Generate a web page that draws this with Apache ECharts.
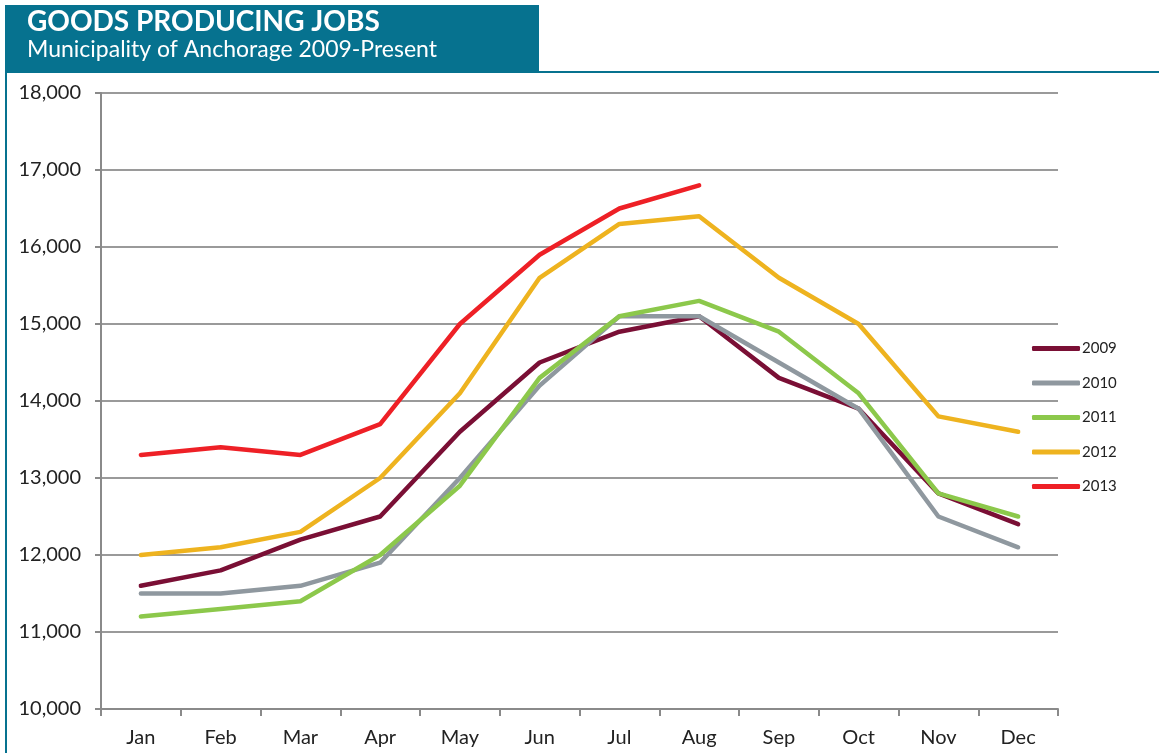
<!DOCTYPE html>
<html lang="en">
<head>
    <meta charset="UTF-8">
    <title>Goods Producing Jobs</title>
    <style>
        html, body { margin: 0; padding: 0; background: #fff; }
        #chart { width: 1159px; height: 753px; }
    </style>
</head>
<body>
<div id="chart"></div>
<script src="https://cdn.jsdelivr.net/npm/echarts@6/dist/echarts.min.js"></script>
<script>

    var months = ['Jan', 'Feb', 'Mar', 'Apr', 'May', 'Jun', 'Jul', 'Aug', 'Sep', 'Oct', 'Nov', 'Dec'];

    var y2009 = [11600, 11800, 12200, 12500, 13600, 14500, 14900, 15100, 14300, 13900, 12800, 12400];
    var y2010 = [11500, 11500, 11600, 11900, 13000, 14200, 15100, 15100, 14500, 13900, 12500, 12100];
    var y2011 = [11200, 11300, 11400, 12000, 12900, 14300, 15100, 15300, 14900, 14100, 12800, 12500];
    var y2012 = [12000, 12100, 12300, 13000, 14100, 15600, 16300, 16400, 15600, 15000, 13800, 13600];
    var y2013 = [13300, 13400, 13300, 13700, 15000, 15900, 16500, 16800];

    var seriesNames = ['2009', '2010', '2011', '2012', '2013'];
    var colors = ['#7a0f35', '#8f989f', '#8cc84b', '#eeb31f', '#ee2026'];

    var teal = '#06728f';
    var font = 'Lato, "Open Sans", sans-serif';

    var make_series = function (name, data) {
        return {
            name: name,
            type: 'line',
            data: data,
            symbol: 'none',
            lineStyle: { width: 4.5, cap: 'round', join: 'round' },
            z: 3
        };
    };

    var chart = echarts.init(document.getElementById('chart'));

    var option = {
        animation: false,
        color: colors,
        textStyle: { fontFamily: font },
        graphic: [
            {
                type: 'rect',
                shape: { x: 5, y: 5, width: 534, height: 67 },
                style: { fill: teal },
                silent: true
            },
            {
                type: 'rect',
                shape: { x: 5, y: 71, width: 1154, height: 2 },
                style: { fill: teal },
                silent: true
            },
            {
                type: 'rect',
                shape: { x: 5, y: 5, width: 2, height: 748 },
                style: { fill: teal },
                silent: true
            },
            {
                type: 'text',
                left: 27,
                top: 8,
                style: {
                    text: 'GOODS PRODUCING JOBS',
                    fill: '#fff',
                    font: 'bold 28px ' + font
                },
                silent: true
            },
            {
                type: 'text',
                left: 27,
                top: 38,
                style: {
                    text: 'Municipality of Anchorage 2009-Present',
                    fill: '#fff',
                    font: '23px ' + font
                },
                silent: true
            }
        ],
        legend: {
            orient: 'vertical',
            left: 1032,
            top: 341,
            padding: 0,
            icon: 'roundRect',
            itemWidth: 48,
            itemHeight: 5,
            itemGap: 19.5,
            data: seriesNames,
            textStyle: { fontSize: 15, color: '#222', lineHeight: 15, padding: [0, 0, 0, -3] }
        },
        grid: {
            left: 101,
            right: 101,
            top: 93,
            bottom: 44
        },
        xAxis: {
            type: 'category',
            data: months,
            boundaryGap: true,
            axisLine: { lineStyle: { color: '#8a8a8a', width: 2 } },
            axisTick: { show: true, length: 7, lineStyle: { color: '#8a8a8a', width: 2 } },
            axisLabel: { fontSize: 20, color: '#222', margin: 19, fontFamily: font }
        },
        yAxis: {
            type: 'value',
            min: 10000,
            max: 18000,
            interval: 1000,
            axisLine: { show: true, lineStyle: { color: '#8a8a8a', width: 2 } },
            axisTick: { show: true, length: 6, lineStyle: { color: '#8a8a8a', width: 2 } },
            splitLine: { lineStyle: { color: '#9a9a9a', width: 2 } },
            axisLabel: {
                fontSize: 20,
                color: '#222',
                margin: 20,
                fontFamily: font,
                formatter: function (v) {
                    return v.toLocaleString('en-US');
                }
            }
        },
        series: [
            make_series('2009', y2009),
            make_series('2010', y2010),
            make_series('2011', y2011),
            make_series('2012', y2012),
            make_series('2013', y2013)
        ]
    };

    chart.setOption(option);

</script>
</body>
</html>
